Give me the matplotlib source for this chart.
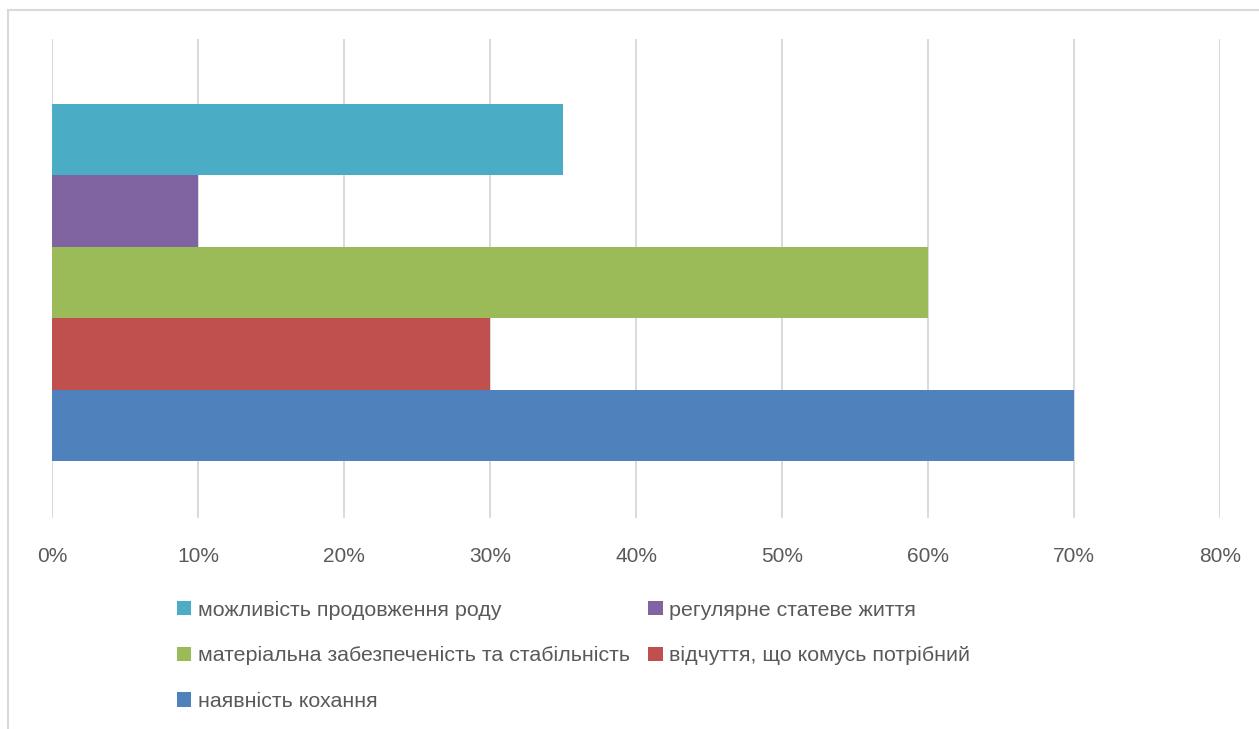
import matplotlib.pyplot as plt
from matplotlib.lines import Line2D
from matplotlib.ticker import PercentFormatter

plt.rcParams['font.family'] = ['Liberation Sans', 'DejaVu Sans']

# ---- Data (bottom to top) ----
labels = [
    "наявність кохання",
    "відчуття, що комусь потрібний",
    "матеріальна забезпеченість та стабільність",
    "регулярне статеве життя",
    "можливість продовження роду",
]
values = [70, 30, 60, 10, 35]
colors = ["#4F81BD", "#C0504D", "#9BBB59", "#8064A2", "#4BACC6"]
xticks = [0, 10, 20, 30, 40, 50, 60, 70, 80]

TEXT = "#595959"
GRID = "#D9D9D9"

fig = plt.figure(figsize=(12.59, 7.29), dpi=100)
ax = fig.add_axes([52 / 1259, 1 - 518 / 729, 1168 / 1259, 479 / 729])

bars = []
for i, (lab, v, c) in enumerate(zip(labels, values, colors)):
    b = ax.barh(i, v, height=1.0, color=c, label=lab, zorder=3)
    bars.append(b)

ax.set_xlim(0, 80)
ax.set_ylim(-1.30, 5.41)
ax.set_xticks(xticks)
ax.xaxis.set_major_formatter(PercentFormatter(decimals=0))
ax.set_yticks([])
ax.grid(axis="x", color=GRID, linewidth=1.4, zorder=0)
ax.tick_params(axis="x", length=0, pad=21, labelsize=15, labelcolor=TEXT)
for s in ax.spines.values():
    s.set_visible(False)

# legend: Excel order (reverse), filled row-wise in 2 columns
order = [4, 2, 0, 3, 1]
handles = [bars[i] for i in order]
names = [labels[i] for i in order]
leg = fig.legend(handles, names, ncol=2, loc="upper left",
                 bbox_to_anchor=(168 / 1259, 1 - 592 / 729),
                 frameon=False, fontsize=15.4, labelcolor=TEXT,
                 handlelength=0.68, handleheight=0.68, handletextpad=0.3,
                 columnspacing=0.88, labelspacing=1.25, borderaxespad=0)

# chart-area border (left and top only are visible)
fig.add_artist(Line2D([8 / 1259, 8 / 1259], [0, 1 - 10 / 729], color=GRID, lw=1.5))
fig.add_artist(Line2D([8 / 1259, 1], [1 - 10 / 729, 1 - 10 / 729], color=GRID, lw=1.5))

fig.savefig("out.png", dpi=100)
